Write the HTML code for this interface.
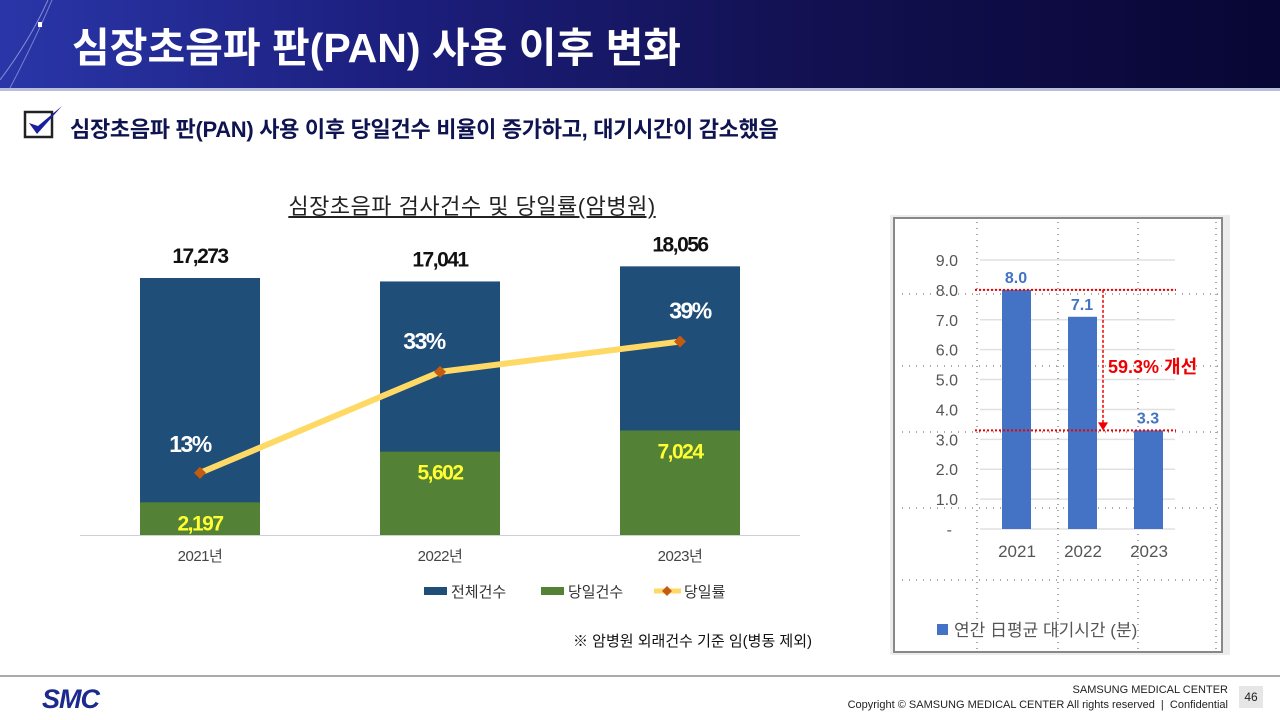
<!DOCTYPE html>
<html><head><meta charset="utf-8"><style>
html,body{margin:0;padding:0;width:1280px;height:720px;overflow:hidden;background:#fff;font-family:"Liberation Sans","Noto Sans CJK KR",sans-serif;}
.abs{position:absolute;}
</style></head><body>
<div class="abs" style="left:0;top:0;width:1280px;height:88px;background:linear-gradient(90deg,#2a36a8 0%,#1c1f7e 30%,#12104f 65%,#080634 100%);"></div>
<div class="abs" style="left:0;top:88px;width:1280px;height:3px;background:#b8bedc;"></div>
<svg class="abs" style="left:0;top:0" width="120" height="90"><path d="M0,80 Q30,40 48,0" stroke="#aab3e8" stroke-width="1" fill="none" opacity="0.7"/><path d="M10,88 Q35,40 52,0" stroke="#aab3e8" stroke-width="1" fill="none" opacity="0.6"/><rect x="38" y="22" width="4" height="5" fill="#fff"/></svg>
<div class="abs" style="left:72px;top:14px;font-size:41px;font-weight:bold;color:#fff;letter-spacing:0px;white-space:nowrap;">심장초음파 판(PAN) 사용 이후 변화</div>

<svg class="abs" style="left:22px;top:104px" width="42" height="36"><rect x="3" y="8" width="27" height="25" fill="#fff" stroke="#222" stroke-width="2.5"/><path d="M7,19 L15,30 L40,2 L16,22 Z" fill="#1a1f9e"/></svg>
<div class="abs" style="left:70px;top:112px;font-size:22px;font-weight:bold;color:#0f1450;letter-spacing:-0.3px;white-space:nowrap;">심장초음파 판(PAN) 사용 이후 당일건수 비율이 증가하고, 대기시간이 감소했음</div>

<div class="abs" style="left:222px;top:189px;width:500px;text-align:center;font-size:22px;color:#222;text-decoration:underline;letter-spacing:0.5px;">심장초음파 검사건수 및 당일률(암병원)</div>

<svg id="left" class="abs" style="left:0;top:0" width="880" height="670"></svg>
<svg id="right" class="abs" style="left:880px;top:210px" width="360" height="450"></svg>

<div class="abs" style="left:573px;top:630px;font-size:15px;color:#111;">※ 암병원 외래건수 기준 임(병동 제외)</div>

<div class="abs" style="left:0;top:675px;width:1280px;height:2px;background:#aaa;"></div>
<div class="abs" style="left:42px;top:684px;font-size:27px;font-weight:bold;font-style:italic;color:#1b2a8c;letter-spacing:-1px;">SMC</div>
<div class="abs" style="left:900px;top:684px;width:328px;text-align:right;font-size:11px;color:#222;">SAMSUNG MEDICAL CENTER</div>
<div class="abs" style="left:700px;top:699px;width:528px;text-align:right;font-size:11px;color:#222;">Copyright © SAMSUNG MEDICAL CENTER All rights reserved &nbsp;|&nbsp; Confidential</div>
<div class="abs" style="left:1239px;top:686px;width:24px;height:22px;background:#e6e6e6;font-size:12px;line-height:22px;text-align:center;color:#222;">46</div>

<script>
const years = ['2021년','2022년','2023년'];
const totalCounts = [17273,17041,18056];
const sameDayCounts = [2197,5602,7024];
const sameDayRates = [13,33,39];

const waitYears = ['2021','2022','2023'];
const waitMinutes = [8.0,7.1,3.3];
const waitTicks = ['-','1.0','2.0','3.0','4.0','5.0','6.0','7.0','8.0','9.0'];
const improvementLabel = '59.3% 개선';

const NS='http://www.w3.org/2000/svg';
function mk(p,tag,attrs,text){const e=document.createElementNS(NS,tag);for(const k in attrs)e.setAttribute(k,attrs[k]);if(text!==undefined)e.textContent=text;p.appendChild(e);return e;}
const fmt=v=>v.toLocaleString('en-US');

// left chart
const L=document.getElementById('left');
const base=535, pxPer=257/17273;
const yC=v=>base-v*pxPer;
const xC=i=>200+i*240;
const yR=p=>538.5-p*5.05;
const bw=120;
const axis=mk(L,'line',{x1:80,x2:800,y1:base+0.5,y2:base+0.5,stroke:'#d0d0d0','stroke-width':1});


years.forEach((y,i)=>{
  const x=xC(i);
  const b=mk(L,'rect',{x:x-bw/2,y:yC(totalCounts[i]),width:bw,height:totalCounts[i]*pxPer,fill:'#1f4e79'});
  
  
  const g=mk(L,'rect',{x:x-bw/2,y:yC(sameDayCounts[i]),width:bw,height:sameDayCounts[i]*pxPer,fill:'#538135'});
  
  
  const t=mk(L,'text',{x:x,y:yC(totalCounts[i])-15,'text-anchor':'middle','font-size':21,'font-weight':'bold',fill:'#111','letter-spacing':'-1.5'},fmt(totalCounts[i]));
  
  
  const s=mk(L,'text',{x:x,y:yC(sameDayCounts[i])+28,'text-anchor':'middle','font-size':21,'font-weight':'bold',fill:'#ffff33','letter-spacing':'-1.5'},fmt(sameDayCounts[i]));
  
  
  const c=mk(L,'text',{x:x,y:base+26,'text-anchor':'middle','font-size':15,fill:'#444','letter-spacing':'-0.5'},y);
  
  
});
const pts=sameDayRates.map((p,i)=>xC(i)+','+yR(p)).join(' ');
const ln=mk(L,'polyline',{points:pts,fill:'none',stroke:'#ffd966','stroke-width':6,'stroke-linejoin':'round'});


sameDayRates.forEach((p,i)=>{
  const x=xC(i),y=yR(p);
  const d=mk(L,'path',{d:`M${x},${y-6}L${x+6},${y}L${x},${y+6}L${x-6},${y}Z`,fill:'#c55a11'});
  
  
  const t=mk(L,'text',{x:x-10+(i==2?20:0)-(i==1?6:0),y:y-23+(i==0?2:0),'text-anchor':'middle','font-size':23,'font-weight':'bold',fill:'#fff','letter-spacing':'-1.5'},p+'%');
  
  
});
// legend
const lg=[['전체건수','#1f4e79',424],['당일건수','#538135',541]];
lg.forEach((l,i)=>{
  const r=mk(L,'rect',{x:l[2],y:587,width:23,height:8,fill:l[1]});
  
  
  const t=mk(L,'text',{x:l[2]+27,y:597,'font-size':15,fill:'#333'},l[0]);
  
  
});
const ll=mk(L,'line',{x1:654,x2:681,y1:591,y2:591,stroke:'#ffd966','stroke-width':5});


mk(L,'path',{d:'M667,586L672,591L667,596L662,591Z',fill:'#c55a11'});
const lt=mk(L,'text',{x:684,y:597,'font-size':15,fill:'#333'},'당일률');



// right chart (offset 880,210)
const R=document.getElementById('right');
mk(R,'rect',{x:10,y:5,width:340,height:440,fill:'#ececec'});
const panel=mk(R,'rect',{x:14,y:8,width:328,height:434,fill:'#fff',stroke:'#888','stroke-width':2});


const y0=319, ppu=269/9;
const yW=v=>y0-v*ppu;
const xW=i=>136+i*66;
waitTicks.forEach((t,i)=>{
  mk(R,'line',{x1:100,x2:295,y1:yW(i),y2:yW(i),stroke:'#e0e0e0','stroke-width':1.5});
  const e=mk(R,'text',{x:i==0?72:78,y:yW(i)+6,'text-anchor':'end','font-size':16,fill:'#555'},t);
  
  
});
[97,178,258,336].forEach(x=>mk(R,'line',{x1:x,x2:x,y1:12,y2:440,stroke:'#555','stroke-width':1,'stroke-dasharray':'1,5'}));
[84,156,298,370].forEach(y=>mk(R,'line',{x1:22,x2:340,y1:y,y2:y,stroke:'#555','stroke-width':1,'stroke-dasharray':'1,6'}));
mk(R,'line',{x1:22,x2:340,y1:222,y2:222,stroke:'#555','stroke-width':1,'stroke-dasharray':'1,6'});
waitMinutes.forEach((v,i)=>{
  const b=mk(R,'rect',{x:xW(i)-14,y:yW(v),width:29,height:v*ppu,fill:'#4472c4'});
  
  
  const t=mk(R,'text',{x:xW(i),y:yW(v)-7,'text-anchor':'middle','font-size':16,'font-weight':'bold',fill:'#4472c4'},v.toFixed(1));
  
  
  const c=mk(R,'text',{x:xW(i)+1,y:y0+28,'text-anchor':'middle','font-size':17,fill:'#555'},waitYears[i]);
  
  
});
const hi=yW(waitMinutes[0]), lo=yW(waitMinutes[2]);
const r1=mk(R,'line',{x1:95,x2:296,y1:hi,y2:hi,stroke:'#e00','stroke-width':2,'stroke-dasharray':'2,2'});


const r2=mk(R,'line',{x1:95,x2:296,y1:lo,y2:lo,stroke:'#e00','stroke-width':2,'stroke-dasharray':'2,2'});


const ar=mk(R,'line',{x1:223,x2:223,y1:hi,y2:lo-7,stroke:'#e00','stroke-width':1.5,'stroke-dasharray':'3,2'});


mk(R,'path',{d:`M218,${lo-8}L228,${lo-8}L223,${lo}Z`,fill:'#e00'});
const im=mk(R,'text',{x:228,y:163,'font-size':18,'font-weight':'bold',fill:'#e00'},improvementLabel);


const ls=mk(R,'rect',{x:57,y:414,width:11,height:11,fill:'#4472c4'});


const lx=mk(R,'text',{x:74,y:426,'font-size':17,fill:'#555'},'연간 日평균 대기시간 (분)');


</script>
</body></html>
